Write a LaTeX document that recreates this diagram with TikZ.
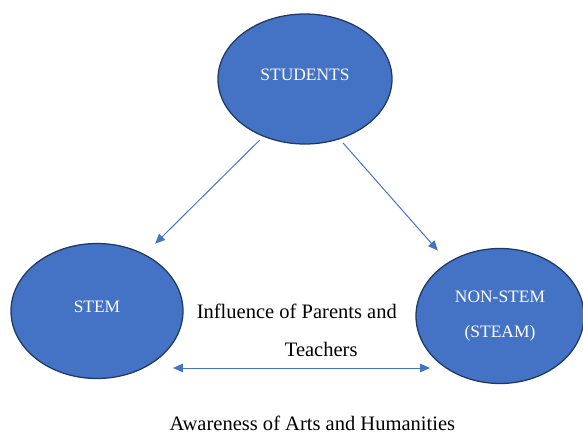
\documentclass[tikz,border=0pt]{standalone}
\usepackage{fontspec}
\setmainfont{Liberation Serif}
\usetikzlibrary{shapes.geometric,arrows.meta}

\definecolor{bubblefill}{HTML}{4472C4}
\definecolor{bubbleline}{HTML}{203864}
\definecolor{linkblue}{HTML}{4472C4}

\tikzset{
bubble/.style={ellipse,draw=bubbleline,line width=0.9pt,fill=bubblefill,
  text=white,font=\fontsize{12.4}{25.3}\selectfont,inner sep=0pt},
link/.style={draw=linkblue,line width=0.7pt,->,
  >={Triangle[length=7pt,width=6pt]}},
caption/.style={font=\fontsize{14.6}{17}\selectfont,anchor=base}
}

\begin{document}
\begin{tikzpicture}

\useasboundingbox (0,0) rectangle (14.575,10.875);

% Students
\node[bubble,minimum width=4.35cm,minimum height=3.25cm,text depth=0.6em]
(students) at (7.625,8.9) {STUDENTS};

% Stem
\node[bubble,minimum width=4.3cm,minimum height=3.375cm,text depth=0.6em]
(stem) at (2.425,3.1) {STEM};

% Non-stem
\node[bubble,minimum width=4.2cm,minimum height=3.375cm,align=center]
(nonstem) at (12.5,2.975) {NON-STEM\\(STEAM)};

% Arrows
\draw[link,shorten <=3.5pt,shorten >=10.5pt] (students.234) -- (stem.50);
\draw[link,shorten <=3.5pt,shorten >=11pt] (students.300) -- (nonstem.134);

\draw[link,<->] ([shift={(1.9,-1.425)}]stem.center)
-- ([shift={(-1.75,-1.3)}]nonstem.center);

% Labels
\node[caption] (influence) at (7.42,2.925)
{Influence of Parents and};
\node[caption] (teachers) at (8.03,1.96)
{Teachers};
\node[caption] (awareness) at (7.81,0.11)
{Awareness of Arts and Humanities};

\end{tikzpicture}
\end{document}
